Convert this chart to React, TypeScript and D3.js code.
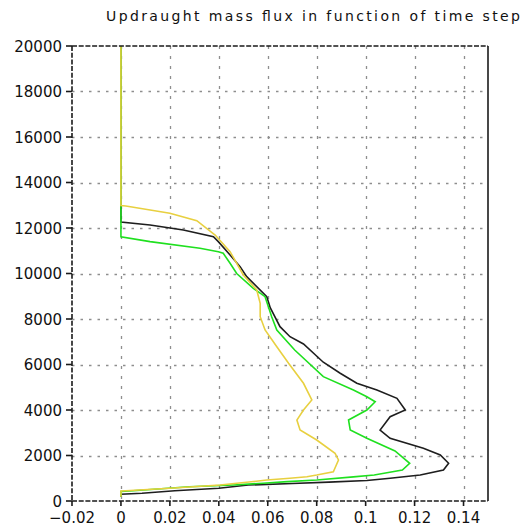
import React from "react";
import * as d3 from "d3";

// Flux profiles: [flux, height in m], listed from the top of the column down.
const blackProfile: [number, number][] = [
  [0, 20000], [0, 12260], [0.0119, 12133], [0.0255, 11913], [0.0378, 11620],
  [0.0398, 11400], [0.0446, 10815], [0.0487, 10300], [0.0514, 9860],
  [0.0596, 8981], [0.0610, 8500], [0.065, 7662], [0.0691, 7222], [0.0746, 6900],
  [0.0827, 6100], [0.0896, 5614], [0.0964, 5174], [0.1046, 4880], [0.1128, 4514],
  [0.1162, 4000], [0.110, 3706], [0.1059, 3121], [0.110, 2756], [0.1236, 2317],
  [0.1305, 2022], [0.1339, 1657], [0.1318, 1363], [0.1223, 1143], [0.110, 998],
  [0.1005, 900], [0.085, 830], [0.070, 770], [0.052, 700], [0.040, 560],
  [0.022, 453], [0.0086, 338], [0, 300], [0, 190],
];

const greenProfile: [number, number][] = [
  [0, 20000], [0, 11610], [0.0119, 11400], [0.0323, 11108], [0.0398, 10960],
  [0.0418, 10888], [0.0446, 10449], [0.0473, 10000], [0.0541, 9350],
  [0.0589, 8981], [0.0616, 8100], [0.0637, 7517], [0.0710, 6638], [0.0827, 5464],
  [0.095, 4880], [0.1005, 4585], [0.1039, 4365], [0.1005, 4000], [0.093, 3560],
  [0.0937, 3121], [0.1005, 2756], [0.112, 2200], [0.118, 1657], [0.115, 1363],
  [0.1035, 1143], [0.095, 1060], [0.080, 920], [0.068, 850], [0.058, 780],
  [0.046, 703], [0.028, 629], [0.015, 527], [0.005, 453], [0, 420], [0, 190],
];

const yellowProfile: [number, number][] = [
  [0, 20000], [0, 12990], [0.002, 12970], [0.020, 12650], [0.031, 12320],
  [0.0385, 11690], [0.0446, 10960], [0.050, 9935], [0.0555, 9275],
  [0.0569, 8690], [0.0569, 8100], [0.0589, 7517], [0.0637, 6783],
  [0.0685, 6053], [0.0746, 5174], [0.078, 4440], [0.0746, 4000],
  [0.0719, 3560], [0.0732, 3121], [0.080, 2681], [0.0875, 2097],
  [0.0889, 1802], [0.0868, 1288], [0.080, 1143], [0.076, 1068],
  [0.069, 1000], [0.0596, 920], [0.0405, 700], [0.020, 560], [0.002, 450],
  [0, 440], [0, 190],
];

const series = [
  { name: "black", color: "#1e1e1e", data: blackProfile },
  { name: "green", color: "#1fe01f", data: greenProfile },
  { name: "yellow", color: "#e8d040", data: yellowProfile },
];

const xTicks = [-0.02, 0, 0.02, 0.04, 0.06, 0.08, 0.1, 0.12, 0.14];
const yTicks = [0, 2000, 4000, 6000, 8000, 10000, 12000, 14000, 16000, 18000, 20000];

const titleText = "Updraught mass flux in function of time step";

const W = 528;
const H = 531;
const LEFT = 72;
const RIGHT = 488;
const TOP = 46;
const BOTTOM = 501;

export default function App() {
  const x = d3.scaleLinear().domain([-0.02, 0.15]).range([LEFT, RIGHT]);
  const y = d3.scaleLinear().domain([0, 20000]).range([BOTTOM, TOP]);
  const line = d3
    .line<[number, number]>()
    .x((d) => x(d[0]))
    .y((d) => y(d[1]));

  const font = "'DejaVu Sans', sans-serif";
  const fmt = (v: number) => (v < 0 ? "\u2212" + String(-v) : String(v));

  return (
    <svg
      width={W}
      height={H}
      viewBox={`0 0 ${W} ${H}`}
      style={{ position: "absolute", left: 0, top: 0, background: "#fff" }}
    >
      <rect x={0} y={0} width={W} height={H} fill="#fff" />
      <text
        x={106}
        y={21}
        fontFamily={font}
        fontSize={14}
        textLength={414}
        lengthAdjust="spacing"
        fill="#111"
      >
        {titleText}
      </text>

      {/* grid */}
      <g stroke="#8e8e8e" strokeWidth={1.3}>
        {yTicks
          .filter((t) => t > 0 && t < 20000)
          .map((t) => (
            <line
              key={"gy" + t}
              x1={LEFT}
              x2={RIGHT}
              y1={Math.round(y(t)) + 0.5}
              y2={Math.round(y(t)) + 0.5}
              strokeDasharray="2.5 6"
            />
          ))}
        {xTicks
          .filter((t) => t > -0.02)
          .map((t) => (
            <line
              key={"gx" + t}
              x1={Math.round(x(t)) + 0.5}
              x2={Math.round(x(t)) + 0.5}
              y1={TOP}
              y2={BOTTOM}
              strokeDasharray="3 7"
            />
          ))}
      </g>

      {/* profiles */}
      <g fill="none" strokeWidth={1.6} strokeLinejoin="miter">
        {series.map((s) => (
          <path key={s.name} d={line(s.data) ?? ""} stroke={s.color} />
        ))}
      </g>

      {/* frame */}
      <g stroke="#1a1a1a" strokeWidth={1.6}>
        <line x1={LEFT} x2={LEFT} y1={TOP} y2={BOTTOM} strokeDasharray="5 1.7" />
        <line x1={LEFT} x2={RIGHT} y1={TOP} y2={TOP} strokeDasharray="5 1.7" />
        <line x1={LEFT} x2={RIGHT} y1={BOTTOM} y2={BOTTOM} strokeDasharray="5 1.7" />
        <line x1={RIGHT} x2={RIGHT} y1={TOP} y2={BOTTOM} />
        {yTicks.map((t) => (
          <line key={"ty" + t} x1={LEFT - 6} x2={LEFT} y1={y(t)} y2={y(t)} />
        ))}
        {xTicks.map((t) => (
          <line key={"tx" + t} x1={x(t)} x2={x(t)} y1={BOTTOM} y2={BOTTOM + 5} />
        ))}
      </g>

      {/* tick labels */}
      <g fontFamily={font} fontSize={15} fill="#111">
        {yTicks.map((t) => (
          <text key={"ly" + t} x={62} y={y(t) + 5.5} textAnchor="end">
            {String(t)}
          </text>
        ))}
        {xTicks.map((t) => (
          <text key={"lx" + t} x={x(t)} y={523} textAnchor="middle">
            {fmt(t)}
          </text>
        ))}
      </g>
    </svg>
  );
}
